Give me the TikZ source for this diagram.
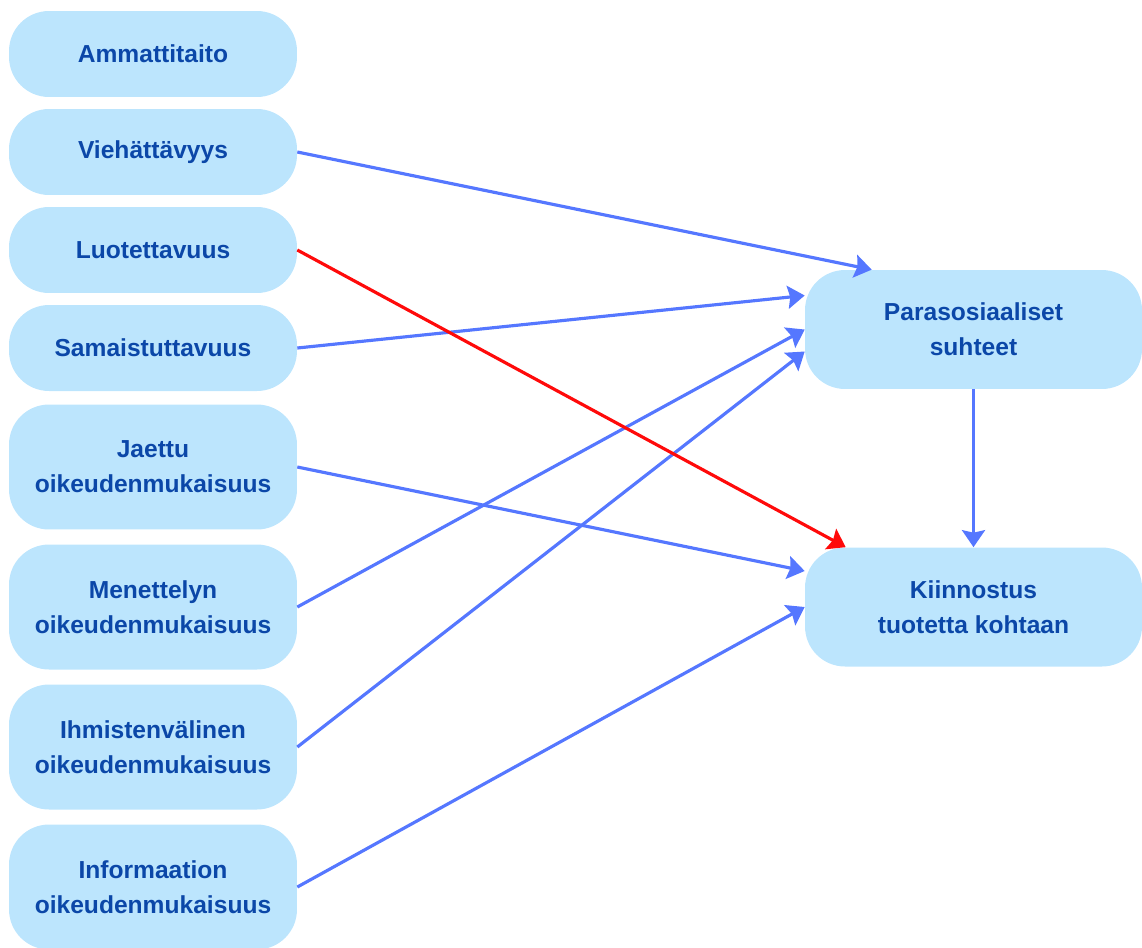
\documentclass[tikz,border=0pt]{standalone}
\usepackage{fontspec}
\setmainfont{Liberation Sans}
\usetikzlibrary{arrows.meta, calc}
\definecolor{boxfill}{HTML}{BCE5FD}
\definecolor{boxtext}{HTML}{0B47A8}
\definecolor{arrowblue}{HTML}{5577FF}
\definecolor{arrowred}{HTML}{FF0A0A}
\tikzset{
    factor/.style = {fill = boxfill, text = boxtext, rounded corners = 0.8cm, align = center,
        font = \fontsize{14}{20}\selectfont\bfseries, inner sep = 0pt},
    leftbox/.style = {factor, minimum width = 5.76cm},
    rightbox/.style = {factor, minimum width = 6.74cm, minimum height = 2.38cm},
    link/.style = {arrowblue, line width = 1.8pt, -{Stealth[length = 0.34cm, width = 0.46cm, inset = 0.05cm]}}
}
\begin{document}
\begin{tikzpicture}[x = 0.02cm, y = -0.02cm]
        \useasboundingbox (0, 0) rectangle (1142, 947);
        \foreach \n/\y/\h/\t in {ammatti/54/1.72/{Ammattitaito}, vieha/152/1.72/{Viehättävyys}, luotet/250/1.72/{Luotettavuus}, samais/348/1.72/{Samaistuttavuus}, jaettu/467/2.5/{Jaettu\\oikeudenmukaisuus}, menet/607/2.5/{Menettelyn\\oikeudenmukaisuus}, ihmis/747/2.5/{Ihmistenvälinen\\oikeudenmukaisuus}, inform/887/2.5/{Informaation\\oikeudenmukaisuus}}{
            \node[leftbox, minimum height = \h cm] (\n) at (153, \y) {\t};
        }
        \node[rightbox] (para) at (973.5, 329.5) {Parasosiaaliset\\suhteet};
        \node[rightbox] (kiin) at (973.5, 607) {Kiinnostus\\tuotetta kohtaan};
        % arrow ends on the two target boxes
        \coordinate (p1) at ($(para.north west) + (67, 0)$);
        \coordinate (p2) at ($(para.west) + (0, -34)$);
        \coordinate (p3) at ($(para.west) + (0, 0)$);
        \coordinate (p4) at ($(para.west) + (0, 22)$);
        \coordinate (k1) at ($(kiin.north west) + (41, 0)$);
        \coordinate (k2) at ($(kiin.west) + (0, -36)$);
        \coordinate (k3) at ($(kiin.west) + (0, 0)$);
        \foreach \a/\b in {vieha/p1, samais/p2, menet/p3, ihmis/p4, jaettu/k2, inform/k3}{
            \draw[link] (\a.east) -- (\b);
        }
        \draw[link, arrowred] (luotet.east) -- (k1);
        \draw[link] (para.south) -- (kiin.north);
    \end{tikzpicture}
\end{document}
